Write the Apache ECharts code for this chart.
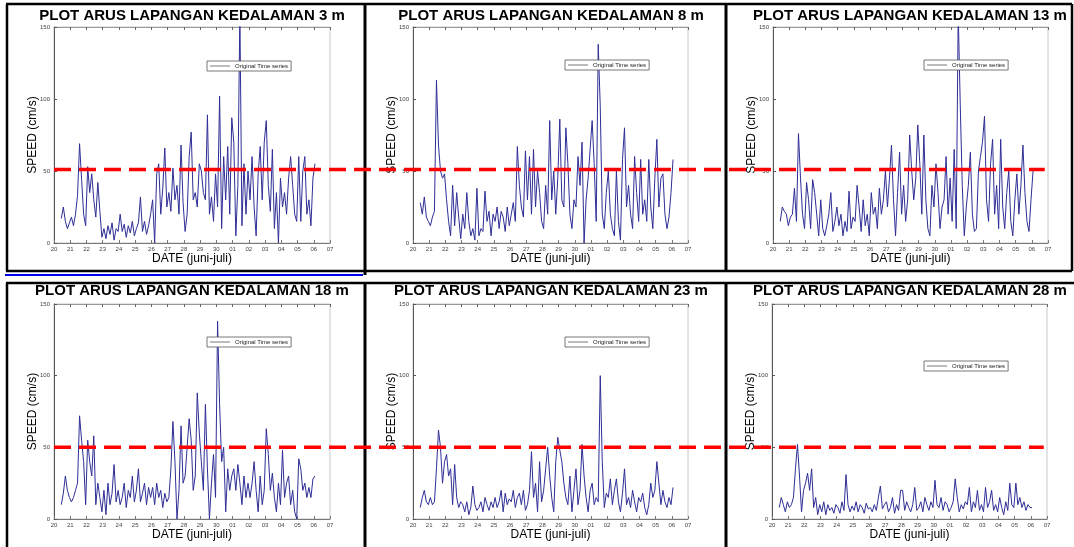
<!DOCTYPE html>
<html><head><meta charset="utf-8">
<script src="https://cdn.jsdelivr.net/npm/echarts@6/dist/echarts.min.js"></script>
<style>html,body{margin:0;padding:0;background:#fff}#c{width:1074px;height:547px}</style>
</head><body><div id="c"></div>
<script>
// ---- tick labels (days, juni-juli) ----
const dayLabels = ['20','21','22','23','24','25','26','27','28','29','30','01','02','03','04','05','06','07'];
const depthLabels = ['3 m','8 m','13 m','18 m','23 m','28 m'];
const seriesName = 'Original Time series';
// sampling: first sample at day 20.45, every 3 hours
const START_DAY = 0.45, STEP_DAY = 0.125;
const thresholdTop = 51, thresholdBottom = 50;

// ---- speed values (cm/s), grouped by day ----
const speed3m = [17,25,15,10,14,
 18,12,20,33,69,44,20,12, 53,35,48,30,18,42,22,4, 10,3,12,6,14,2,10,8, 20,8,13,4,12,7,15,5,
 10,14,32,8,15,6,12,20, 30,0,48,55,20,38,66,25, 35,22,52,30,40,20,68,28, 8,20,60,77,30,35,25,55,
 50,35,30,89,20,32,15,48, 25,102,10,60,30,67,20,87, 70,5,40,160,12,55,20,50, 30,60,25,5,48,67,30,70,
 85,40,22,65,10,35,0,45, 25,35,20,45,60,40,20,15, 60,15,50,60,20,30,12,45, 55];
const speed8m = [28,20,32,18,15,
 12,18,22,113,68,50,45,48, 30,15,5,40,12,35,18,3, 20,10,35,15,5,10,2,38, 5,10,8,36,15,22,5,20,
 15,25,10,22,18,8,25,12, 20,28,15,67,40,25,18,64, 30,60,20,65,25,50,35,15, 10,40,20,85,30,50,20,45,
 86,30,25,80,55,20,10,30, 25,60,40,70,0,30,45,65, 85,55,15,138,95,20,10,35, 50,20,10,5,50,15,2,58,
 80,25,40,20,10,60,35,15, 58,20,30,15,58,25,10,45, 72,25,45,48,20,10,18,35, 58];
const speed13m = [15,25,22,20,12,
 18,20,38,15,76,45,20,10, 42,30,10,44,35,20,5,30, 10,5,12,20,35,8,15,25, 12,20,5,15,8,36,10,18,
 15,40,25,8,30,12,20,5, 35,20,25,10,38,20,30,50, 25,45,68,30,5,35,63,20, 40,15,30,75,50,30,45,82,
 55,20,75,30,10,5,40,25, 55,35,10,25,30,60,20,45, 15,65,10,160,96,40,5,25, 40,63,20,8,10,50,60,70,
 88,30,15,55,72,20,40,10, 72,25,10,35,50,15,5,30, 48,20,40,68,35,15,8,30, 50];
const speed18m = [10,18,30,20,15,
 12,15,20,25,72,55,40,10, 55,40,30,58,10,25,15,5, 20,3,25,10,18,38,12,20, 10,15,25,8,20,15,30,12,
 20,35,12,18,25,10,22,15, 22,10,25,15,20,8,18,12, 15,35,68,40,0,20,65,25, 30,50,70,55,20,30,88,60,
 40,20,80,35,0,25,45,15, 138,80,40,50,5,35,20,30, 35,20,38,25,10,30,15,25, 15,25,40,20,5,30,10,20,
 63,45,20,32,15,5,25,10, 48,15,25,30,10,20,5,0, 42,35,20,25,15,22,15,28, 30];
const speed23m = [8,15,20,12,10,
 15,10,12,35,62,50,25,40, 45,30,35,10,38,15,8,12, 10,5,12,3,8,23,10,6, 8,12,5,15,10,6,12,8,
 15,8,12,20,5,18,10,14, 12,20,8,15,18,10,20,6, 10,20,47,15,25,5,40,12, 20,35,50,30,15,5,40,57,
 48,40,25,15,10,30,5,20, 35,10,20,52,30,15,5,20, 25,10,15,12,100,40,8,18, 15,28,10,20,28,12,5,18,
 35,10,15,8,20,12,5,15, 12,18,8,3,10,25,15,20, 40,25,10,20,12,8,15,10, 22];
const speed28m = [8,15,10,5,12,
 8,10,15,35,52,30,5,20, 25,32,20,35,8,15,3,10, 5,12,3,10,6,8,4,10, 8,4,12,6,31,10,5,9,
 6,12,5,10,8,4,11,7, 8,5,10,6,15,23,7,10, 12,5,8,15,4,10,6,20, 20,6,12,8,5,10,22,6,
 8,12,5,15,10,6,12,8, 27,10,8,15,6,12,10,5, 8,12,28,15,5,10,7,12, 10,22,5,12,8,20,6,10,
 5,22,8,12,20,6,10,5, 15,8,3,12,6,25,10,8, 25,10,15,8,12,6,10,8, 8];
const allSpeeds = [speed3m, speed8m, speed13m, speed18m, speed23m, speed28m];

// ---- layout (styling only) ----
const layout = [
  {left:54,  top:27,  width:276, height:216, tx:192, ty:15.5, lx:207, ly:61},
  {left:413, top:27,  width:275, height:216, tx:551, ty:15.5, lx:565, ly:60},
  {left:773, top:27,  width:275, height:216, tx:910, ty:15.5, lx:924, ly:60},
  {left:54,  top:304, width:276, height:215, tx:192, ty:290.5, lx:207, ly:337},
  {left:413, top:304, width:275, height:215, tx:551, ty:290.5, lx:565, ly:337},
  {left:772, top:304, width:275, height:215, tx:910, ty:290.5, lx:924, ly:361}
];
const FONT = '"Liberation Sans", Arial, sans-serif';
const LINE_COLOR = '#2e2e96';

const grids = [], xAxes = [], yAxes = [], series = [], legends = [];
layout.forEach((L, i) => {
  grids.push({left:L.left, top:L.top, width:L.width, height:L.height, show:true,
    borderColor:'#c8c8c8', borderWidth:1, backgroundColor:'#fff'});
  xAxes.push({type:'value', gridIndex:i, min:0, max:dayLabels.length-1, interval:1,
    name:'DATE (juni-juli)', nameLocation:'middle', nameGap:10,
    nameTextStyle:{fontFamily:FONT, fontSize:12, color:'#000'},
    axisLine:{onZero:false, lineStyle:{color:'#777', width:1}},
    axisTick:{inside:true, length:3, lineStyle:{color:'#777'}},
    axisLabel:{fontFamily:FONT, fontSize:6, color:'#444', margin:3, formatter:v => dayLabels[v]},
    splitLine:{show:false}});
  xAxes.push({type:'value', gridIndex:i, position:'top', min:0, max:dayLabels.length-1, interval:1,
    axisLine:{onZero:false, lineStyle:{color:'#999', width:1}},
    axisTick:{inside:true, length:3, lineStyle:{color:'#666'}},
    axisLabel:{show:false}, splitLine:{show:false}});
  yAxes.push({type:'value', gridIndex:i, min:0, max:150, interval:50,
    name:'SPEED (cm/s)', nameLocation:'middle', nameGap:15, nameMoveOverlap:false,
    nameTextStyle:{fontFamily:FONT, fontSize:12, color:'#000'},
    axisLine:{show:true, lineStyle:{color:'#555', width:1}},
    axisTick:{inside:true, length:3, lineStyle:{color:'#555'}},
    axisLabel:{fontFamily:FONT, fontSize:6, color:'#444', margin:4},
    splitLine:{show:false}});
  series.push({type:'line', name:seriesName, xAxisIndex:2*i, yAxisIndex:i,
    data: allSpeeds[i].map((v, k) => [START_DAY + k*STEP_DAY, v]),
    symbol:'none', showSymbol:false, clip:true, animation:false,
    lineStyle:{color:LINE_COLOR, width:1}, itemStyle:{color:LINE_COLOR}});
  legends.push({data:[{name:seriesName, icon:'rect'}], left:L.lx, top:L.ly, orient:'horizontal',
    itemWidth:20, itemHeight:1, itemGap:0, padding:[2,3,2,3],
    borderColor:'#555', borderWidth:0.8, backgroundColor:'#fff',
    itemStyle:{color:'#777', borderWidth:0},
    textStyle:{fontFamily:FONT, fontSize:6, color:'#222'}, selectedMode:false});
});

const chart = echarts.init(document.getElementById('c'), null, {renderer:'canvas'});
chart.setOption({animation:false, backgroundColor:'#fff',
  grid:grids, xAxis:xAxes, yAxis:yAxes, series:series, legend:legends});

// ---- decorations: titles, frames, threshold line ----
const g = [];
layout.forEach((L, i) => {
  g.push({type:'text', x:L.tx, y:L.ty, z:10,
    style:{text:'PLOT ARUS LAPANGAN KEDALAMAN ' + depthLabels[i], fontFamily:FONT, fontWeight:'bold',
      fontSize:15, fill:'#000', align:'center', verticalAlign:'middle'}});
});
function seg(x1,y1,x2,y2,color,w){ return {type:'line', z:20, shape:{x1,y1,x2,y2}, style:{stroke:color, lineWidth:w}}; }
g.push(seg(6,4,1072,4,'#000',2.5));
g.push(seg(7,4,7,271,'#000',2.5));
g.push(seg(365,4,365,275,'#000',3));
g.push(seg(726,4,726,271,'#000',3));
g.push(seg(1072,4,1072,271,'#000',2.5));
g.push(seg(6,271,1072,271,'#000',2.5));
g.push(seg(5,275,363,275,'#0000ee',2));
g.push(seg(6,283,1074,283,'#000',2.5));
g.push(seg(7,283,7,547,'#000',2.5));
g.push(seg(365,283,365,547,'#000',3));
g.push(seg(726,283,726,547,'#000',3));
// threshold dashed lines through the library's scales
const a0 = chart.convertToPixel({gridIndex:0}, [0, thresholdTop]);
const a1 = chart.convertToPixel({gridIndex:2}, [16.8, thresholdTop]);
const b0 = chart.convertToPixel({gridIndex:3}, [0, thresholdBottom]);
const b1 = chart.convertToPixel({gridIndex:5}, [16.8, thresholdBottom]);
g.push({type:'line', z:30, shape:{x1:a0[0], y1:a0[1], x2:a1[0], y2:a1[1]}, style:{stroke:'#ff0000', lineWidth:3.5, lineDash:[17,8]}});
g.push({type:'line', z:30, shape:{x1:b0[0], y1:b0[1], x2:b1[0], y2:b1[1]}, style:{stroke:'#ff0000', lineWidth:3.5, lineDash:[17,8]}});
chart.setOption({graphic:{elements:g}});
</script></body></html>
